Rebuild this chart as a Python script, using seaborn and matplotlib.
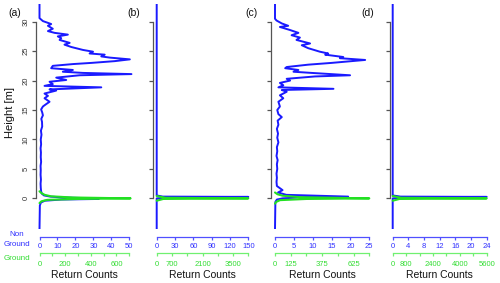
import numpy as np
import pandas as pd
import matplotlib
matplotlib.use('Agg')
import matplotlib.pyplot as plt
from matplotlib.ticker import FixedLocator, FixedFormatter
import seaborn as sns

sns.set_style('white')
plt.rcParams['font.family'] = ['Liberation Sans', 'DejaVu Sans']

# ---------------- data ----------------
panel_labels = ['(a)', '(b)', '(c)', '(d)']

# panel (a) non-ground profile
a_nonground_height = [33.0, 30.6, 30.1, 29.6, 29.3, 28.8, 28.4, 28.1, 27.8, 27.5, 27.2, 26.9,
                      26.4, 26.1, 25.7, 25.2, 24.9, 24.6, 24.4, 24.1, 23.9, 23.6, 23.3, 23.0,
                      22.8, 22.5, 22.1, 21.8, 21.5, 21.3, 21.1, 20.9, 20.5, 20.1, 19.8, 19.4,
                      19.1, 18.85, 18.5, 18.3, 17.8, 17.4, 17.0, 16.4, 16.0, 15.6, 15.1, 14.6,
                      14.1, 13.5, 13.0, 12.2, 11.5, 10.8, 10.0, 9.2, 8.5, 7.8, 7.0, 6.2, 5.5,
                      4.8, 4.0, 3.2, 2.5, 1.8, 1.2, 0.8, 0.5, 0.3, 0.15, 0.0, -0.1, -0.2,
                      -0.4, -0.7, -1.2, -5.2]
a_nonground_count = [0, 0, 1.9, 6.5, 4.7, 7.4, 4.7, 8.4, 15.8, 10.2, 12.1, 11.2,
                     16.8, 13.9, 17.7, 24.2, 29.8, 27.9, 36.3, 34.4, 39.1, 50.3, 41.9, 28.9,
                     18.6, 7.4, 6.5, 18.6, 13.0, 24.2, 51.2, 22.3, 9.3, 14.9, 5.6, 7.4,
                     2.8, 34.4, 5.6, 9.3, 2.8, 4.7, 2.8, 5.6, 3.7, 1.9, 0.9, 1.5,
                     1.9, 1.0, 1.4, 1.5, 0.8, 1.1, 0.7, 0.9, 0.6, 0.8, 0.7, 0.9, 0.6,
                     0.7, 0.6, 0.8, 0.6, 0.7, 0.9, 1.3, 2.5, 6, 14, 30, 33, 12,
                     3, 0.8, 0.2, 0]
a_ground_height = [1.2, 0.9, 0.6, 0.35, 0.15, 0.0, -0.1, -0.25, -0.5, -0.8]
a_ground_count = [0, 15, 40, 90, 260, 710, 300, 60, 15, 0]

# panel (b)
b_nonground_height = [33.0, 0.5, 0.3, 0.25, 0.2, 0.0, -5.2]
b_nonground_count = [0, 0, 10, 150, 30, 0, 0]
b_ground_height = [0.4, 0.1, 0.0, -0.1, -0.4]
b_ground_count = [0, 400, 4200, 300, 0]

# panel (c)
c_nonground_height = [33.0, 30.5, 30.2, 29.7, 29.3, 29.1, 28.6, 28.1, 27.7, 27.3, 26.9, 26.3,
                      26.0, 25.5, 24.9, 24.6, 24.4, 24.0, 23.8, 23.5, 23.3, 23.0, 22.7, 22.3,
                      22.1, 21.8, 21.5, 21.3, 20.9, 20.7, 20.3, 20.0, 19.6, 19.2, 18.85, 18.6,
                      18.4, 18.1, 17.5, 17.0, 16.4, 15.6, 15.0, 14.3, 13.8, 13.2, 12.5, 11.8,
                      11.0, 10.3, 9.5, 8.7, 8.0, 7.2, 6.5, 5.8, 5.0, 4.2, 3.5, 2.8, 2.1,
                      1.4, 1.0, 0.6, 0.3, 0.15, 0.0, -0.2, -0.6, -5.2]
c_nonground_count = [0, 0, 0.4, 1.8, 3.5, 1.3, 3.9, 6.2, 4.4, 6.6, 5.7, 9.3,
                     7.1, 8.8, 11.9, 14.1, 13.3, 18.1, 17.2, 23.9, 20.3, 15.0, 8.8, 3.1,
                     2.7, 6.2, 4.9, 9.7, 19.9, 10.6, 3.1, 4.0, 1.3, 2.2, 0.9, 15.5,
                     1.8, 3.1, 1.3, 2.2, 0.9, 1.3, 0.6, 0.9, 1.8, 0.7, 0.9, 0.5,
                     0.8, 0.6, 0.9, 0.5, 0.6, 0.4, 0.7, 0.5, 0.6, 0.4, 0.5, 0.4, 0.5,
                     2.0, 0.8, 3.0, 19.4, 6, 2, 0.5, 0.1, 0]
c_ground_height = [1.0, 0.7, 0.45, 0.2, 0.0, -0.1, -0.3, -0.6, -0.9]
c_ground_count = [0, 20, 60, 200, 750, 250, 40, 10, 0]

# panel (d)
d_nonground_height = [33.0, 0.5, 0.3, 0.25, 0.2, 0.0, -5.2]
d_nonground_count = [0, 0, 2, 24, 5, 0, 0]
d_ground_height = [0.4, 0.1, 0.0, -0.1, -0.4]
d_ground_count = [0, 500, 5600, 400, 0]

# axis ticks
height_ticks = [0, 5, 10, 15, 20, 25, 30]
nonground_ticks = [[0, 10, 20, 30, 40, 50],
                   [0, 30, 60, 90, 120, 150],
                   [0, 5, 10, 15, 20, 25],
                   [0, 4, 8, 12, 16, 20, 24]]
ground_ticks = [[0, 100, 200, 300, 400, 500, 600, 700],
                [0, 700, 1400, 2100, 2800, 3500, 4200],
                [0, 125, 250, 375, 500, 625, 750],
                [0, 800, 1600, 2400, 3200, 4000, 4800, 5600]]
ground_ticklabels = [['0', '', '200', '', '400', '', '600', ''],
                     ['0', '700', '', '2100', '', '3500', ''],
                     ['0', '125', '', '375', '', '625', ''],
                     ['0', '800', '', '2400', '', '4000', '', '5600']]

nonground_data = [(a_nonground_height, a_nonground_count), (b_nonground_height, b_nonground_count),
                  (c_nonground_height, c_nonground_count), (d_nonground_height, d_nonground_count)]
ground_data = [(a_ground_height, a_ground_count), (b_ground_height, b_ground_count),
               (c_ground_height, c_ground_count), (d_ground_height, d_ground_count)]

# ---------------- layout / style ----------------
W, H = 500, 283
BLUE_LINE = '#1a1aff'
BLUE_AXIS = '#5050ff'
BLUE_TEXT = '#3030ff'
GREEN_LINE = '#22e022'
GREEN_AXIS = '#70f070'
GREEN_TEXT = '#33dd33'
GREY = '#555555'

axis_px = [35.5, 153.0, 271.0, 389.5]
zero_px = [39.5, 156.7, 275.0, 392.7]
max_px = [129.3, 248.3, 369.3, 486.7]
label_px = [15, 133.5, 251, 368]
TOP_PX, BOT_PX = 4.0, 229.0
YLIM = (-5.2, 33.0)
PX2PT = 72.0 / 100.0

fig = plt.figure(figsize=(5, 2.83), dpi=100)


def fx(px):
    return px / W


def fy(py):
    return 1 - py / H


for i in range(4):
    bmax = nonground_ticks[i][-1]
    gmax = ground_ticks[i][-1]
    scale = (max_px[i] - zero_px[i]) / bmax
    right_px = max_px[i] + 5
    ax = fig.add_axes([fx(axis_px[i]), fy(BOT_PX), (right_px - axis_px[i]) / W, (BOT_PX - TOP_PX) / H])
    xlim = (-(zero_px[i] - axis_px[i]) / scale, (right_px - zero_px[i]) / scale)
    ax.set_xlim(*xlim)
    ax.set_ylim(*YLIM)
    ax.patch.set_alpha(0)

    hgt, cnt = nonground_data[i]
    sns.lineplot(x=cnt, y=hgt, ax=ax, orient='y', sort=False, estimator=None,
                 color=BLUE_LINE, lw=1.4)
    ax.set_xlim(*xlim)
    ax.set_ylim(*YLIM)

    axg = ax.twiny()
    axg.set_xlim(xlim[0] * gmax / bmax, xlim[1] * gmax / bmax)
    gh, gc = ground_data[i]
    sns.lineplot(x=gc, y=gh, ax=axg, orient='y', sort=False, estimator=None,
                 color=GREEN_LINE, lw=1.5)
    axg.set_xlim(xlim[0] * gmax / bmax, xlim[1] * gmax / bmax)
    axg.set_ylim(*YLIM)

    # main axes spines
    ax.spines['top'].set_visible(False)
    ax.spines['right'].set_visible(False)
    ax.spines['left'].set_bounds(0, 30)
    ax.spines['left'].set_color(GREY)
    ax.spines['left'].set_linewidth(0.9)
    ax.spines['bottom'].set_position(('outward', (236.7 - BOT_PX) * PX2PT))
    ax.spines['bottom'].set_bounds(0, bmax)
    ax.spines['bottom'].set_color(BLUE_AXIS)
    ax.spines['bottom'].set_linewidth(0.9)
    ax.set_yticks(height_ticks)
    ax.set_xticks(nonground_ticks[i])
    ax.tick_params(axis='y', left=True, direction='out', length=3.0, width=0.9, color=GREY,
                   labelsize=5.5, labelcolor='#333333', labelrotation=90, pad=1.2)
    ax.tick_params(axis='x', bottom=True, direction='out', length=2.5, width=0.9,
                   color=BLUE_AXIS, labelsize=5.5, labelcolor=BLUE_TEXT, pad=2.2)
    for lab in ax.get_yticklabels():
        lab.set_va('center')
    if i > 0:
        ax.tick_params(axis='y', labelleft=False)
    ax.set_xlabel('')
    ax.set_ylabel('')

    # ground (green) axis
    for s in ['top', 'left', 'right']:
        axg.spines[s].set_visible(False)
    axg.spines['bottom'].set_visible(True)
    axg.xaxis.set_ticks_position('bottom')
    axg.xaxis.set_label_position('bottom')
    axg.spines['bottom'].set_position(('outward', (253.3 - BOT_PX) * PX2PT))
    axg.spines['bottom'].set_bounds(0, gmax)
    axg.spines['bottom'].set_color(GREEN_AXIS)
    axg.spines['bottom'].set_linewidth(0.9)
    axg.xaxis.set_major_locator(FixedLocator(ground_ticks[i]))
    axg.xaxis.set_major_formatter(FixedFormatter(ground_ticklabels[i]))
    axg.tick_params(axis='x', bottom=True, top=False, labelbottom=True, labeltop=False,
                    direction='out', length=2.5, width=0.9, color=GREEN_AXIS,
                    labelsize=5.5, labelcolor=GREEN_TEXT, pad=2.8)
    axg.set_xlabel('')
    axg.set_ylabel('')
    axg.tick_params(axis='y', left=False, right=False, labelleft=False, labelright=False)

    # texts
    fig.text(fx(label_px[i]), fy(13), panel_labels[i], ha='center', va='center',
             fontsize=7.5, color='#111111')
    fig.text(fx((zero_px[i] + max_px[i]) / 2), fy(274.7), 'Return Counts', ha='center',
             va='center', fontsize=7.5, color='#111111')

fig.text(fx(10), fy(113), 'Height [m]', rotation=90, ha='center', va='center',
         fontsize=8, color='#111111')
fig.text(fx(16.5), fy(235), 'Non', ha='center', va='center', fontsize=5.8, color=BLUE_TEXT)
fig.text(fx(16.5), fy(244.3), 'Ground', ha='center', va='center', fontsize=5.8, color=BLUE_TEXT)
fig.text(fx(16.5), fy(259), 'Ground', ha='center', va='center', fontsize=5.8, color=GREEN_TEXT)

fig.savefig('out.png', dpi=100)
